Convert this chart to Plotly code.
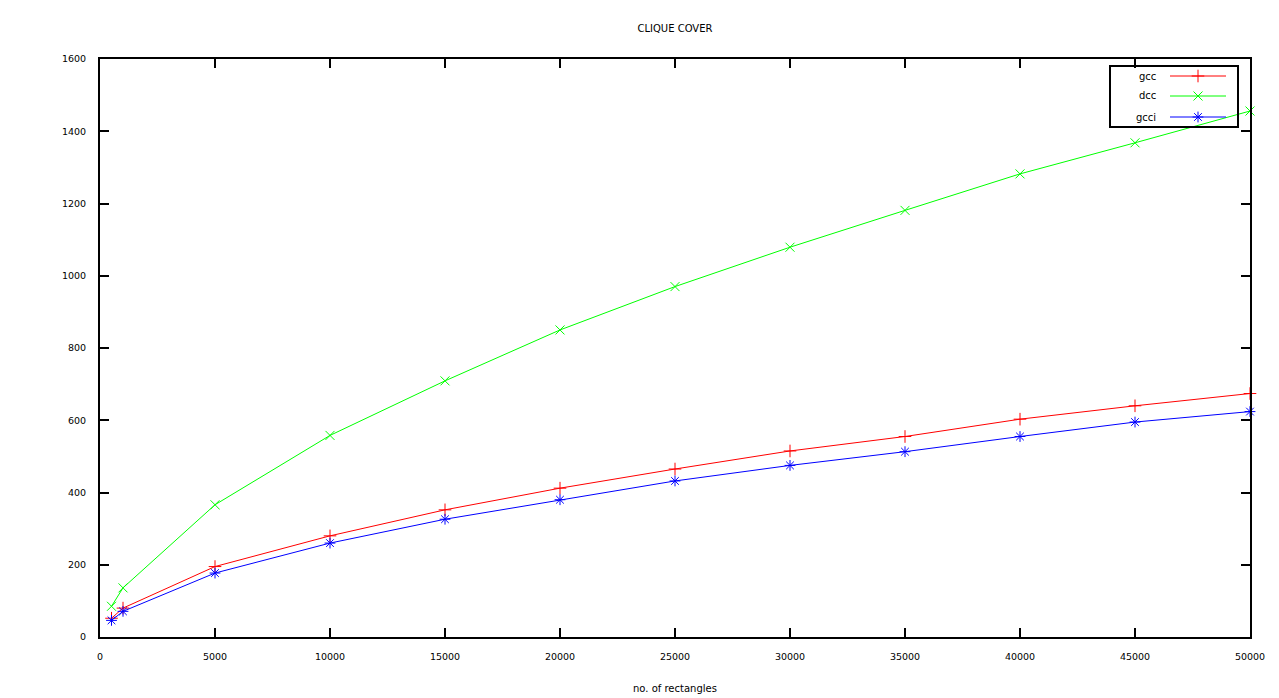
import plotly.graph_objects as go

x_vals = [500, 1000, 5000, 10000, 15000, 20000, 25000, 30000, 35000, 40000, 45000, 50000]
gcc = [52, 80, 195, 280, 352, 412, 465, 515, 555, 603, 640, 674]
dcc = [85, 136, 366, 558, 709, 850, 970, 1079, 1181, 1282, 1368, 1456]
gcci = [46, 71, 177, 260, 326, 380, 432, 475, 513, 555, 595, 624]

series_names = ["gcc", "dcc", "gcci"]
series_values = [gcc, dcc, gcci]
colors = ["#ff0000", "#00ff00", "#0000ff"]
symbols = ["cross-thin-open", "x-thin-open", "asterisk-open"]

x_ticks = [0, 5000, 10000, 15000, 20000, 25000, 30000, 35000, 40000, 45000, 50000]
y_ticks = [0, 200, 400, 600, 800, 1000, 1200, 1400, 1600]

FONT = "DejaVu Sans"
W, H = 1279, 698
L, R, T, B = 100, 29, 59, 61
pw, ph = W - L - R, H - T - B
MSIZE = 9

fig = go.Figure()
for name, vals, c, s in zip(series_names, series_values, colors, symbols):
    fig.add_trace(go.Scatter(
        x=x_vals, y=vals, mode="lines+markers", name=name,
        line=dict(color=c, width=1),
        marker=dict(symbol=s, size=MSIZE, color=c, line=dict(color=c, width=1)),
        showlegend=False, cliponaxis=False,
    ))

# custom gnuplot-style key (text left, sample right)
def px2paper(px, py):
    return (px - L) / pw, (H - B - py) / ph

key_rows_y = [76, 96, 117]
kx0, _ = px2paper(1110, 0)
kx1, _ = px2paper(1238, 0)
_, ky0 = px2paper(0, 66)
_, ky1 = px2paper(0, 127)
fig.add_shape(type="rect", xref="paper", yref="paper", x0=kx0, x1=kx1, y0=ky1, y1=ky0,
              line=dict(color="black", width=2), fillcolor="rgba(0,0,0,0)")
lx0, _ = px2paper(1170, 0)
lx1, _ = px2paper(1226, 0)
mx, _ = px2paper(1198, 0)
tx, _ = px2paper(1158, 0)
for name, c, s, ry in zip(series_names, colors, symbols, key_rows_y):
    _, yy = px2paper(0, ry)
    fig.add_shape(type="line", xref="paper", yref="paper", x0=lx0, x1=lx1, y0=yy, y1=yy,
                  line=dict(color=c, width=1))
    fig.add_annotation(xref="paper", yref="paper", x=tx, y=yy, text=name, showarrow=False,
                       xanchor="right", yanchor="middle",
                       font=dict(family=FONT, size=10, color="black"))
    fig.add_trace(go.Scatter(x=[mx], y=[yy], xaxis="x2", yaxis="y2", mode="markers",
                             marker=dict(symbol=s, size=MSIZE, color=c, line=dict(color=c, width=1)),
                             showlegend=False, hoverinfo="skip"))

fig.add_annotation(xref="paper", yref="paper", x=0.5, y=(H - B - 688) / ph,
                   text="no. of rectangles", showarrow=False, xanchor="center", yanchor="middle",
                   font=dict(family=FONT, size=10, color="black"))

axis_common = dict(showline=True, linecolor="black", linewidth=2, mirror="ticks",
                   ticks="inside", ticklen=9, tickwidth=2, tickcolor="black",
                   showgrid=False, zeroline=False,
                   tickfont=dict(family=FONT, size=9.5, color="black"))

fig.update_layout(
    width=W, height=H,
    margin=dict(l=L, r=R, t=T, b=B),
    plot_bgcolor="white", paper_bgcolor="white",
    title=dict(text="CLIQUE COVER", x=(L + pw / 2) / W, xanchor="center",
               y=1 - 28 / H, yanchor="middle",
               font=dict(family=FONT, size=10, color="black")),
    xaxis=dict(range=[0, 50000], tickvals=x_ticks, ticktext=[str(v) for v in x_ticks],
               ticklabelstandoff=10, **axis_common),
    yaxis=dict(range=[0, 1600], tickvals=y_ticks, ticktext=[str(v) for v in y_ticks],
               ticklabelstandoff=10, **axis_common),
    xaxis2=dict(range=[0, 1], overlaying="x", visible=False, fixedrange=True),
    yaxis2=dict(range=[0, 1], overlaying="y", visible=False, fixedrange=True),
    showlegend=False,
)

fig.write_html("out.html", config={"displayModeBar": False},
               post_script="document.body.style.margin='0';document.body.style.overflow='hidden';")
